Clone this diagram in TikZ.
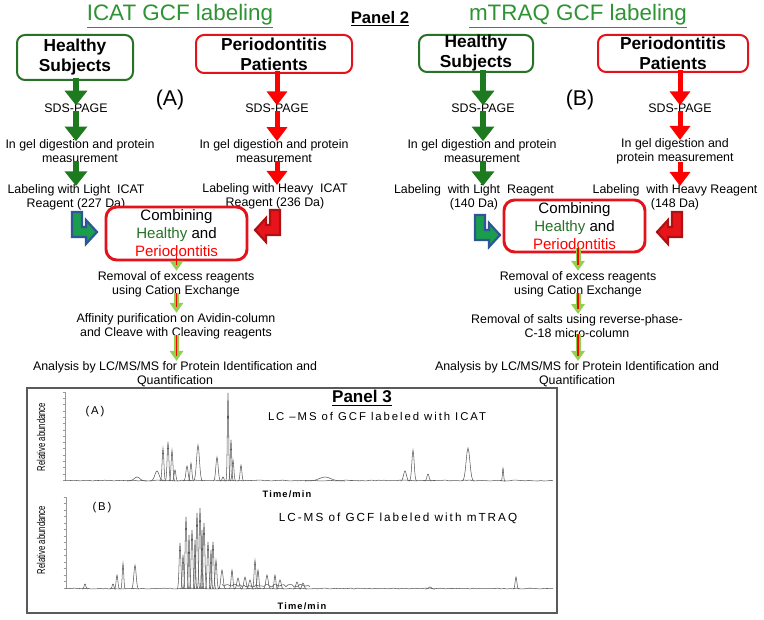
\documentclass[tikz,border=0pt]{standalone}
\usepackage{fontspec}
\setmainfont{Liberation Sans}
\newfontfamily\spacedfont[LetterSpace=17]{Liberation Sans}
\newfontfamily\timefont[LetterSpace=12]{Liberation Sans}
\usepackage{graphicx}
\usepackage{tikz}
\usetikzlibrary{arrows.meta,positioning,calc}
\definecolor{darkgreen}{HTML}{1E7A1E}
\definecolor{titlegreen}{HTML}{2E9433}
\definecolor{boxgreen}{HTML}{267326}
\definecolor{brightred}{HTML}{FF0000}
\definecolor{boxred}{HTML}{E3121B}
\definecolor{lightgreen}{HTML}{92D050}
\definecolor{bentblue}{HTML}{2F5597}
\definecolor{bentgreen}{HTML}{1A9E4E}
\definecolor{bentred}{HTML}{E8141C}
\definecolor{darkred}{HTML}{B01010}
\definecolor{framegray}{HTML}{5A5A5A}
\tikzset{
  steptext/.style={align=center,font=\fontsize{9.3}{10.5}\selectfont,inner sep=0.5pt},
  grpbox/.style={rectangle,rounded corners=6pt,line width=1.5pt,fill=white,align=center,font=\bfseries\fontsize{13}{15}\selectfont,inner sep=0pt},
  combbox/.style={rectangle,rounded corners=8pt,line width=2.2pt,draw=boxred,fill=white,align=center,font=\fontsize{11.3}{13.5}\selectfont,inner sep=0pt,minimum width=105.75pt},
  greenarrow/.style={-{Triangle[width=16.5pt,length=11pt]},line width=4.9pt,draw=darkgreen,shorten <=-2pt,shorten >=-2pt},
  redarrow/.style={-{Triangle[width=15pt,length=10.5pt]},line width=3.75pt,draw=brightred,shorten <=-2pt,shorten >=-2pt},
  mixarrow/.style={-{Triangle[width=10pt,length=7.5pt]},line width=3.75pt,draw=lightgreen,shorten <=-4pt,
    postaction={draw=brightred,line width=1.1pt,-,shorten >=4pt}},
  bentarr/.pic={\draw[line width=1.6pt,line join=miter,pic actions] (-25,-20) -- (-15,-20) -- (-15,-5) -- (-11,-5) -- (-11,-12) -- (0,0) -- (-11,12) -- (-11,5) -- (-25,5) -- cycle;},
  trace/.style={line width=0.4pt,draw=black!65},
  axisline/.style={line width=0.4pt,draw=black!40},
  spectext/.style={font=\spacedfont\fontsize{8.5}{10}\selectfont,inner sep=0pt},
  timetext/.style={font=\timefont\bfseries\fontsize{7}{8}\selectfont,inner sep=0pt},
  ylabel/.style={rotate=90,font=\fontsize{8.5}{9}\selectfont,inner sep=0pt}
}

\begin{document}
\begin{tikzpicture}[x=0.75pt,y=-0.75pt]
  \fill[white] (0,0) rectangle (764,620);
  \useasboundingbox (0,0) rectangle (764,620);

  % titles
  \node[font=\fontsize{16.8}{20}\selectfont,text=titlegreen] (title1) at (180,16) {\underline{ICAT GCF labeling}};
  \node[font=\fontsize{16.8}{20}\selectfont,text=titlegreen] (title2) at (578,16) {\underline{mTRAQ GCF labeling}};
  \node[font=\bfseries\fontsize{12.5}{14}\selectfont] (panel2) at (380,19) {\underline{Panel 2}};

  % ICAT side
  \node[grpbox,draw=boxgreen,minimum width=87pt,minimum height=33.75pt] (hs1) at (75,57.5) {Healthy\\Subjects};
  \node[grpbox,draw=boxred,minimum width=117pt,minimum height=28.5pt] (pp1) at (274,54) {Periodontitis\\Patients};
  \node[font=\fontsize{16}{18}\selectfont] (tagA) at (170,100) {(A)};
  \node[steptext] (sds1L) at (76,108) {SDS-PAGE};
  \node[steptext] (sds1R) at (277,108) {SDS-PAGE};
  \node[steptext] (dig1L) at (80,151) {In gel digestion and protein\\measurement};
  \node[steptext] (dig1R) at (274,151) {In gel digestion and protein\\measurement};
  \node[steptext] (lab1L) at (76,197) {Labeling with Light\ \ ICAT\\Reagent (227 Da)};
  \node[steptext] (lab1R) at (275,196) {Labeling with Heavy\ \ ICAT\\Reagent (236 Da)};
  \node[combbox,minimum height=39.75pt] (comb1) at (176.5,233.5) {Combining\\{\color{boxgreen}Healthy} and\\{\color{brightred}Periodontitis}};
  \node[steptext] (rem1) at (176,284.5) {Removal of excess reagents\\using Cation Exchange};
  \node[steptext] (aff1) at (176,326.5) {Affinity purification on Avidin-column\\and Cleave with Cleaving reagents};
  \node[steptext] (ana1) at (175,374.5) {Analysis by LC/MS/MS for Protein Identification and\\Quantification};

  % mTRAQ side
  \node[grpbox,draw=boxgreen,minimum width=85.5pt,minimum height=27.75pt] (hs2) at (476,53.5) {Healthy\\Subjects};
  \node[grpbox,draw=boxred,minimum width=112.5pt,minimum height=27.75pt] (pp2) at (673,53.5) {Periodontitis\\Patients};
  \node[font=\fontsize{16}{18}\selectfont] (tagB) at (580,100) {(B)};
  \node[steptext] (sds2L) at (483,108) {SDS-PAGE};
  \node[steptext] (sds2R) at (680,108) {SDS-PAGE};
  \node[steptext] (dig2L) at (482,151) {In gel digestion and protein\\measurement};
  \node[steptext] (dig2R) at (675,151) {In gel digestion and\\protein measurement};
  \node[steptext] (lab2L) at (474,197) {Labeling\ \ with Light\ \ Reagent\\(140 Da)};
  \node[steptext] (lab2R) at (675,197) {Labeling\ \ with Heavy Reagent\\(148 Da)};
  \node[combbox,minimum height=39pt] (comb2) at (574.5,226) {Combining\\{\color{boxgreen}Healthy} and\\{\color{brightred}Periodontitis}};
  \node[steptext] (rem2) at (578,284.5) {Removal of excess reagents\\using Cation Exchange};
  \node[steptext] (sal2) at (577,326.5) {Removal of salts using reverse-phase-\\C-18 micro-column};
  \node[steptext] (ana2) at (577,374.5) {Analysis by LC/MS/MS for Protein Identification and\\Quantification};

  % arrows, ICAT
  \draw[greenarrow] (sds1L.north |- hs1.south) -- (sds1L.north);
  \draw[greenarrow] (sds1L.south) -- (sds1L.south |- dig1L.north);
  \draw[greenarrow] (sds1L.south |- dig1L.south) -- (sds1L.south |- lab1L.north);
  \draw[redarrow] (sds1R.north |- pp1.south) -- (sds1R.north);
  \draw[redarrow] (sds1R.south) -- (sds1R.south |- dig1R.north);
  \draw[redarrow] (sds1R.south |- dig1R.south) -- (sds1R.south |- lab1R.north);
  \draw[mixarrow] (comb1.south) -- (comb1.south |- rem1.north);
  \draw[mixarrow] (comb1.south |- rem1.south) -- (comb1.south |- aff1.north);
  \draw[mixarrow] (comb1.south |- aff1.south) -- (comb1.south |- ana1.north);
  \pic[draw=bentblue,fill=bentgreen] at (97,232) {bentarr};
  \pic[draw=darkred,fill=bentred,xscale=-1] at (255,230) {bentarr};

  % arrows, mTRAQ
  \draw[greenarrow] (sds2L.north |- hs2.south) -- (sds2L.north);
  \draw[greenarrow] (sds2L.south) -- (sds2L.south |- dig2L.north);
  \draw[greenarrow] (sds2L.south |- dig2L.south) -- (sds2L.south |- lab2L.north);
  \draw[redarrow] (sds2R.north |- pp2.south) -- (sds2R.north);
  \draw[redarrow] (sds2R.south) -- (sds2R.south |- dig2R.north);
  \draw[redarrow] (sds2R.south |- dig2R.south) -- (sds2R.south |- lab2R.north);
  \draw[mixarrow] (rem2.north |- comb2.south) -- (rem2.north);
  \draw[mixarrow] (rem2.south) -- (rem2.south |- sal2.north);
  \draw[mixarrow] (rem2.south |- sal2.south) -- (rem2.south |- ana2.north);
  \pic[draw=bentblue,fill=bentgreen] at (500,235) {bentarr};
  \pic[draw=darkred,fill=bentred,xscale=-1] at (657,232) {bentarr};

  % Panel 3, chromatograms
  \node[draw=framegray,line width=1.2pt,minimum width=397.5pt,minimum height=168.75pt,inner sep=0pt] (chrom) at (292,500.5) {};
  \node[font=\bfseries\fontsize{12.8}{14}\selectfont] (panel3) at (362,398) {\underline{Panel 3}};

  % trace A
  \draw[axisline] (65,392) -- (65,481);
  \foreach \k in {0,...,14} \draw[axisline] (62.5,{392+\k*6.3}) -- (65,{392+\k*6.3});
  \draw[trace] plot[domain=65:553,samples=160] (\x,{481-0.9*rnd});
  \foreach \pc/\py/\pw in {137/477/4,157/471/3,163/448/1.2,168/442/1.2,172/450/1.2,175/470/1.2,187/466/1.5,191/463/1.2,198/445/2,
      217/457/1.6,223/477/1.2,228/393/0.9,231/440/1,233/460/1.2,241/465/1.2,325/477/8,405/471/2,413/450/1.6,428/474/1.5,468/448/2.6,503/468/0.8}
    \draw[trace] plot[domain=-2.5:2.5,samples=15] ({\pc+\x*\pw},{481-(481-\py)*exp(-\x*\x)});
  \node[spectext] (tagA2) at (95,412) {(A)};
  \node[spectext] (titA) at (377,416) {LC –MS of GCF labeled with ICAT};
  \node[ylabel] (relA) at (41,437) {\scalebox{0.68}[1]{Relative abundance}};
  \node[timetext] (timeA) at (287,494) {Time/min};

  % trace B
  \draw[axisline] (66,497) -- (66,589);
  \foreach \k in {0,...,14} \draw[axisline] (63.5,{497+\k*6.5}) -- (66,{497+\k*6.5});
  \draw[trace] plot[domain=66:553,samples=160] (\x,{589-0.9*rnd});
  \draw[trace] plot[domain=222:310,samples=45] (\x,{587-3*rnd});
  \foreach \pc/\py/\pw in {85/584/1.2,113/584/1.2,117/575/1.2,123/563/1,135/565/1.6,180/543/1.2,183/555/1,186/517/1.2,189/535/0.8,192/530/1.2,
      195/540/0.8,197/513/1.2,200/508/1.2,202/530/0.8,204/523/1.2,208/542/1.2,211/550/0.8,213/542/1.2,216/560/1.2,222/570/1.6,
      232/570/1.2,238/578/1.6,245/577/1.6,250/580/1.6,255/560/1.2,258/570/1.2,267/575/1.6,275/575/1.2,280/580/1.6,297/582/1.6,
      303/583/1.6,430/587/2,516/577/1.2}
    \draw[trace] plot[domain=-2.5:2.5,samples=15] ({\pc+\x*\pw},{589-(589-\py)*exp(-\x*\x)});
  \node[spectext] (tagB2) at (102,508) {(B)};
  \node[spectext,font=\spacedfont\fontsize{8.8}{10}\selectfont] (titB) at (398,518) {LC-MS of GCF labeled with mTRAQ};
  \node[ylabel] (relB) at (41,540) {\scalebox{0.68}[1]{Relative abundance}};
  \node[timetext] (timeB) at (302,606) {Time/min};
\end{tikzpicture}
\end{document}
